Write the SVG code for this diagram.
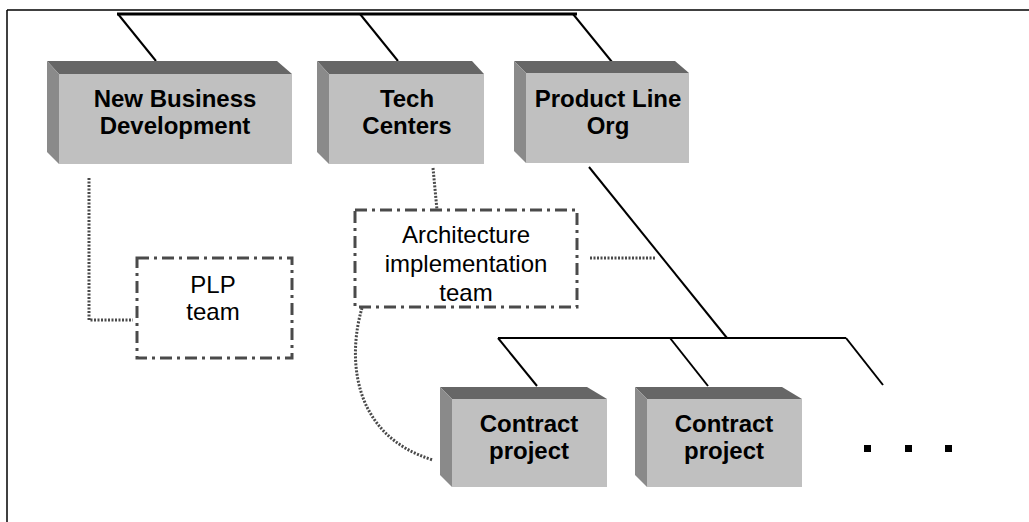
<svg xmlns="http://www.w3.org/2000/svg" width="1029" height="522" viewBox="0 0 1029 522">
<style>
.front{fill:#c0c0c0}
.top{fill:#666666}
.side{fill:#8a8a8a}
.bold{font-family:"Liberation Sans",Arial,sans-serif;font-weight:bold;font-size:24px;fill:#000;text-anchor:middle}
.reg{font-family:"Liberation Sans",Arial,sans-serif;font-size:24px;fill:#000;text-anchor:middle}
.solid{stroke:#000;stroke-width:2;fill:none}
.dot{stroke:#4a4a4a;stroke-width:3;fill:none;stroke-dasharray:2 1.5}
.dashdot{stroke:#4a4a4a;stroke-width:3;fill:none;stroke-dasharray:12 5 3 5}
</style>
<rect width="1029" height="522" fill="#fff"/>
<g id="frame">
<line x1="7" y1="10" x2="1029" y2="10" stroke="#000" stroke-width="1.5"/>
<line x1="7" y1="10" x2="7" y2="522" stroke="#000" stroke-width="1.5"/>
</g>
<g id="connectors">
<line x1="117" y1="14" x2="577" y2="14" stroke="#000" stroke-width="3"/>
<line class="solid" x1="118" y1="14" x2="156" y2="61"/>
<line class="solid" x1="360" y1="14" x2="398" y2="61"/>
<line class="solid" x1="573" y1="14" x2="612" y2="62"/>
<line class="solid" x1="589" y1="167" x2="727" y2="338"/>
<line class="solid" x1="498" y1="338" x2="846" y2="338"/>
<line class="solid" x1="498" y1="338" x2="537" y2="386"/>
<line class="solid" x1="670" y1="338" x2="708" y2="386"/>
<line class="solid" x1="846" y1="338" x2="883" y2="385"/>
<polyline class="dot" points="89,178 89,320 133,320"/>
<line class="dot" x1="433" y1="168" x2="437" y2="210"/>
<line class="dot" x1="590" y1="258" x2="655" y2="258"/>
<path class="dot" d="M362,308 C348,355 350,435 433,460"/>
</g>
<g id="nbd">
<polygon class="top" points="47,61 277,61 292,74 59,74"/>
<polygon class="side" points="47,61 59,74 59,164 47,152"/>
<rect class="front" x="59" y="74" width="233" height="90"/>
<text class="bold" x="175" y="107">New Business</text>
<text class="bold" x="175" y="134">Development</text>
</g>
<g id="tech">
<polygon class="top" points="317,61 472,61 484,74 329,74"/>
<polygon class="side" points="317,61 329,74 329,164 317,152"/>
<rect class="front" x="329" y="74" width="155" height="90"/>
<text class="bold" x="407" y="107">Tech</text>
<text class="bold" x="407" y="134">Centers</text>
</g>
<g id="plo">
<polygon class="top" points="514,61 675,61 689,73 526,73"/>
<polygon class="side" points="514,61 526,73 526,163 514,151"/>
<rect class="front" x="526" y="73" width="163" height="90"/>
<text class="bold" x="608" y="107">Product Line</text>
<text class="bold" x="608" y="134">Org</text>
</g>
<g id="plp">
<rect class="dashdot" x="137" y="258" width="155" height="100"/>
<text class="reg" x="213" y="293">PLP</text>
<text class="reg" x="213" y="320">team</text>
</g>
<g id="arch">
<text class="reg" x="466" y="243">Architecture</text>
<text class="reg" x="466" y="272">implementation</text>
<text class="reg" x="466" y="301">team</text>
<rect class="dashdot" x="355" y="210" width="222" height="97"/>
</g>
<g id="cp1">
<polygon class="top" points="440,387 587,387 607,399 452,399"/>
<polygon class="side" points="440,387 452,399 452,487 440,475"/>
<rect class="front" x="452" y="399" width="155" height="88"/>
<text class="bold" x="529" y="432">Contract</text>
<text class="bold" x="529" y="459">project</text>
</g>
<g id="cp2">
<polygon class="top" points="635,387 782,387 802,399 647,399"/>
<polygon class="side" points="635,387 647,399 647,487 635,475"/>
<rect class="front" x="647" y="399" width="155" height="88"/>
<text class="bold" x="724" y="432">Contract</text>
<text class="bold" x="724" y="459">project</text>
</g>
<g id="ellipsis">
<rect x="864" y="445" width="7" height="7" fill="#000"/>
<rect x="905" y="445" width="7" height="7" fill="#000"/>
<rect x="945" y="445" width="7" height="7" fill="#000"/>
</g>
</svg>
